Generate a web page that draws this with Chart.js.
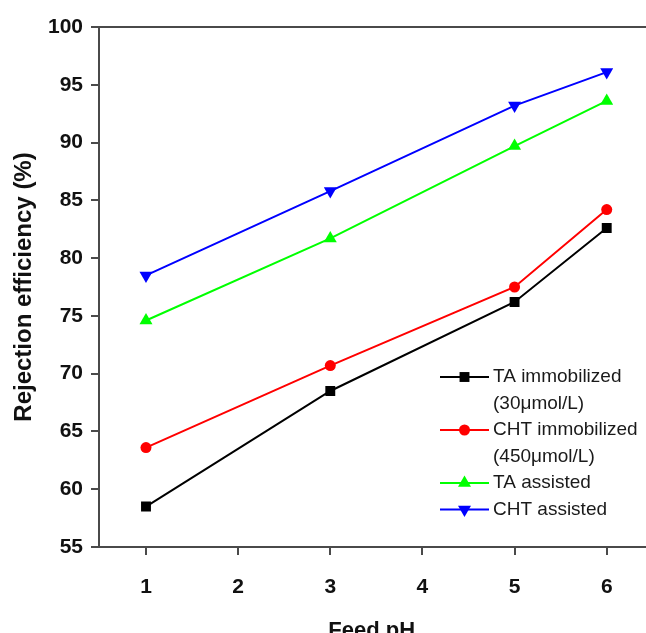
<!DOCTYPE html>
<html>
<head>
<meta charset="utf-8">
<script src="https://cdn.jsdelivr.net/npm/chart.js@4.4.1/dist/chart.umd.min.js"></script>
<style>
  html, body { margin: 0; padding: 0; background: #fff; overflow: hidden; }
  #wrap { width: 646px; height: 633px; overflow: hidden; }
  canvas { display: block; }
</style>
</head>
<body>
<div id="wrap"><canvas id="chart" width="652" height="660"></canvas></div>
<script>
// ── Data ──────────────────────────────────────────────
const feedPH      = [1, 3, 5, 6];
const taImmob     = [58.5, 68.5, 76.2, 82.6];
const chtImmob    = [63.6, 70.7, 77.5, 84.2];
const taAssist    = [74.6, 81.7, 89.7, 93.6];
const chtAssist   = [78.5, 85.8, 93.2, 96.1];
const xTicks      = [1, 2, 3, 4, 5, 6];
const legendLines = [
  ['TA immobilized', '(30μmol/L)'],
  ['CHT immobilized', '(450μmol/L)'],
  ['TA assisted'],
  ['CHT assisted'],
];

const pts = ys => feedPH.map((x, i) => ({ x, y: ys[i] }));
const axisColor = '#4a4a4a';
const font = 'Arial, "Liberation Sans", sans-serif';

// top frame line
const topLine = {
  id: 'topLine',
  afterDraw(chart) {
    const { ctx, chartArea: a } = chart;
    ctx.save();
    ctx.strokeStyle = axisColor;
    ctx.lineWidth = 2;
    ctx.beginPath();
    ctx.moveTo(a.left - 1, a.top);
    ctx.lineTo(chart.width, a.top);
    ctx.stroke();
    ctx.restore();
  }
};

// legend with two-line labels
const sideLegend = {
  id: 'sideLegend',
  afterDraw(chart) {
    const { ctx } = chart;
    const x0 = 440, x1 = 489, tx = 493;
    let y = 377;
    ctx.save();
    ctx.font = '19px ' + font;
    ctx.textBaseline = 'middle';
    chart.data.datasets.forEach((ds, i) => {
      ctx.strokeStyle = ds.borderColor;
      ctx.lineWidth = 2;
      ctx.beginPath(); ctx.moveTo(x0, y); ctx.lineTo(x1, y); ctx.stroke();
      ctx.fillStyle = ds.pointBackgroundColor;
      Chart.helpers.drawPoint(ctx, {
        pointStyle: ds.pointStyle, radius: ds.pointRadius, rotation: ds.pointRotation || 0, borderWidth: 0
      }, (x0 + x1) / 2, y);
      ctx.fillStyle = '#1a1a1a';
      legendLines[i].forEach(t => {
        ctx.fillText(t, tx, y);
        y += 26.5;
      });
    });
    ctx.restore();
  }
};

const ds = (label, data, color, style, r, rot) => ({
  label, data,
  borderColor: color, backgroundColor: color,
  pointBackgroundColor: color, pointBorderColor: color, pointBorderWidth: 0,
  pointStyle: style, pointRadius: r, pointHoverRadius: r, pointRotation: rot || 0,
  borderWidth: 2, tension: 0, showLine: true,
});

new Chart(document.getElementById('chart'), {
  type: 'scatter',
  data: {
    datasets: [
      ds('TA immobilized (30μmol/L)',   taImmob,   '#000000', 'rect', 7),
      ds('CHT immobilized (450μmol/L)', chtImmob,  '#ff0000', 'circle', 5.5),
      ds('TA assisted',                 taAssist,  '#00ff00', 'triangle', 7.5),
      ds('CHT assisted',                chtAssist, '#0000ff', 'triangle', 7.5, 180),
    ].map(d => ({ ...d, data: pts(d.data) }))
  },
  options: {
    responsive: false,
    animation: false,
    layout: { padding: { left: 0, right: 0, top: 27, bottom: 0 } },
    plugins: { legend: { display: false }, tooltip: { enabled: false } },
    scales: {
      x: {
        type: 'linear', min: 0.49, max: 6.41,
        afterBuildTicks: s => { s.ticks = xTicks.map(v => ({ value: v })); },
        afterFit: s => { s.height = 113; },
        grid: { display: true, drawOnChartArea: false, drawTicks: true, tickLength: 8, color: axisColor, lineWidth: 2 },
        border: { display: true, color: axisColor, width: 2 },
        ticks: { color: '#111', padding: 20, font: { family: font, size: 21, weight: 'bold' } },
        title: { display: true, text: 'Feed pH', color: '#111', padding: { top: 0, bottom: 18 },
                 font: { family: font, size: 22, weight: 'bold', lineHeight: 1 } },
      },
      y: {
        min: 55, max: 100,
        ticks: { stepSize: 5, color: '#111', padding: 8, font: { family: font, size: 21, weight: 'bold' } },
        afterFit: s => { s.width = 99; },
        grid: { display: true, drawOnChartArea: false, drawTicks: true, tickLength: 8, color: axisColor, lineWidth: 2 },
        border: { display: true, color: axisColor, width: 2 },
        title: { display: true, text: 'Rejection efficiency (%)', color: '#111', padding: { top: 12, bottom: 0 },
                 font: { family: font, size: 24, weight: 'bold', lineHeight: 1 } },
      }
    }
  },
  plugins: [topLine, sideLegend]
});
</script>
</body>
</html>
